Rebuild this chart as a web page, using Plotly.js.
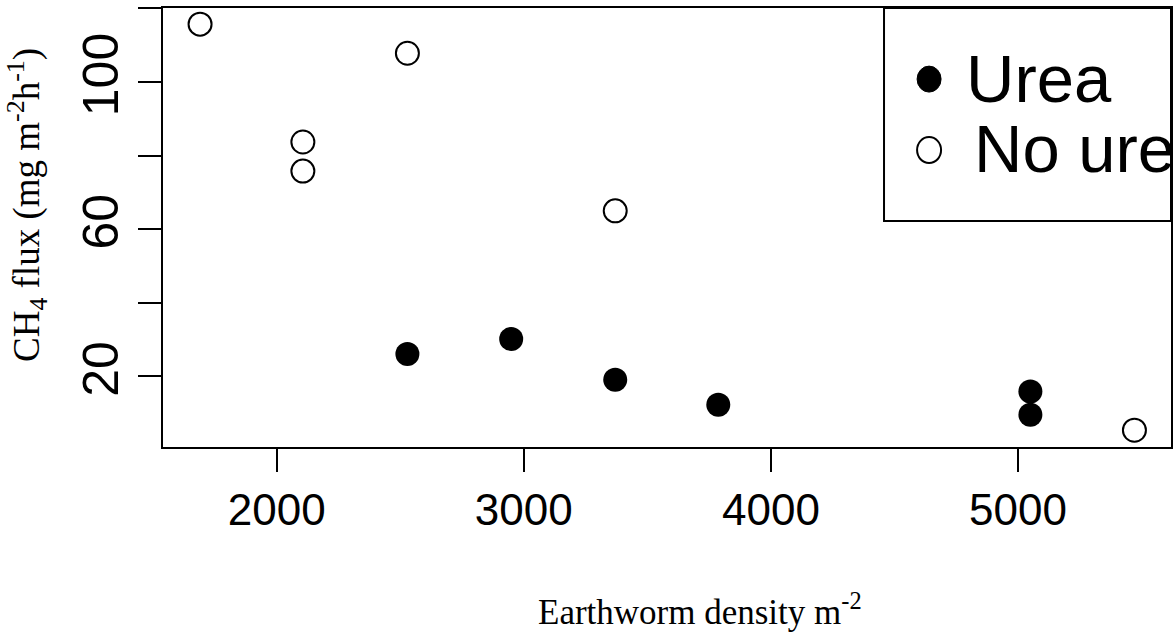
<!DOCTYPE html>
<html>
<head>
<meta charset="utf-8">
<script src="https://cdn.plot.ly/plotly-3.0.1.min.js"></script>
<style>html,body{margin:0;padding:0;background:#fff;overflow:hidden;}#chart{width:1174px;height:634px;}</style>
</head>
<body>
<div id="chart"></div>
<script>
// Data
const ureaDensity   = [2529, 2949, 3370, 3787, 5050, 5050];
const ureaFlux      = [26.1, 30.2, 19.1, 12.3, 15.9, 9.6];
const noUreaDensity = [1690, 2106, 2106, 2529, 3370, 5471];
const noUreaFlux    = [115.7, 83.7, 75.8, 107.8, 65.0, 5.4];
const seriesNames   = ["Urea", "No urea"];
const legendLabels  = ["Urea", "No ure"];   // as visible in the (clipped) legend of the reference
const xTickVals     = [2000, 3000, 4000, 5000];
const xTickText     = ["2000", "3000", "4000", "5000"];
const yTickVals     = [20, 60, 100];
const yTickText     = ["20", "60", "100"];
const yMinorTicks   = [40, 80, 120];

const sans = "Liberation Sans, Arial, sans-serif";
const serif = "Liberation Serif, Times New Roman, serif";

const traces = [
  {x: ureaDensity, y: ureaFlux, name: seriesNames[0], type: "scatter", mode: "markers",
   marker: {symbol: "circle", size: 24, color: "#000"}, showlegend: false, cliponaxis: false},
  {x: noUreaDensity, y: noUreaFlux, name: seriesNames[1], type: "scatter", mode: "markers",
   marker: {symbol: "circle-open", size: 23, color: "#000", line: {width: 2, color: "#000"}}, showlegend: false, cliponaxis: false}
];

const axisCommon = {
  showgrid: false, zeroline: false, showline: true, mirror: true,
  linecolor: "#000", linewidth: 2, ticks: "outside", ticklen: 23, tickwidth: 2, tickcolor: "#000"
};

const layout = {
  width: 1174, height: 634,
  margin: {l: 163, r: 3, t: 8, b: 187},
  paper_bgcolor: "#fff", plot_bgcolor: "#fff",
  showlegend: false,
  xaxis: Object.assign({}, axisCommon, {range: [1540, 5619], tickmode: "array", tickvals: xTickVals, ticktext: xTickText,
    tickfont: {family: sans, size: 44, color: "#000"}}),
  yaxis: Object.assign({}, axisCommon, {range: [0.84, 120.1], tickmode: "array", tickvals: yTickVals, ticktext: yTickText, tickangle: -90,
    tickfont: {family: sans, size: 50, color: "#000"},
    minor: {tickmode: "array", tickvals: yMinorTicks, ticks: "outside", ticklen: 23, tickwidth: 2, tickcolor: "#000", showgrid: false}}),
  shapes: [
    {type: "rect", xref: "paper", yref: "paper", x0: 0.7153, x1: 1, y0: 0.5148, y1: 1,
     line: {color: "#000", width: 2}, fillcolor: "#fff", layer: "above"},
    {type: "circle", xref: "paper", yref: "paper", xsizemode: "pixel", ysizemode: "pixel",
     xanchor: 0.76, yanchor: 0.838, x0: -12, x1: 12, y0: -13, y1: 13,
     fillcolor: "#000", line: {color: "#000", width: 1}, layer: "above"},
    {type: "circle", xref: "paper", yref: "paper", xsizemode: "pixel", ysizemode: "pixel",
     xanchor: 0.76, yanchor: 0.6765, x0: -12, x1: 12, y0: -13, y1: 13,
     fillcolor: "#fff", line: {color: "#000", width: 2}, layer: "above"}
  ],
  annotations: [
    {text: legendLabels[0], xref: "paper", yref: "paper", x: 0.7946, y: 0.839, xanchor: "left", yanchor: "middle",
     showarrow: false, font: {family: sans, size: 67, color: "#000"}},
    {text: legendLabels[1], xref: "paper", yref: "paper", x: 0.8025, y: 0.679, xanchor: "left", yanchor: "middle",
     showarrow: false, font: {family: sans, size: 67, color: "#000"}},
    {text: "Earthworm density m<sup>-2</sup>", xref: "paper", yref: "paper", x: 0.533, y: -0.371,
     xanchor: "center", yanchor: "middle", showarrow: false, font: {family: serif, size: 35, color: "#000"}},
    {text: "CH<sub>4</sub> flux (mg m<sup>-2</sup>h<sup>-1</sup>)", xref: "paper", yref: "paper", x: -0.135, y: 0.551,
     xanchor: "center", yanchor: "middle", textangle: -90, showarrow: false, font: {family: serif, size: 37, color: "#000"}}
  ]
};

Plotly.newPlot("chart", traces, layout, {displayModeBar: false, staticPlot: true});
</script>
</body>
</html>
